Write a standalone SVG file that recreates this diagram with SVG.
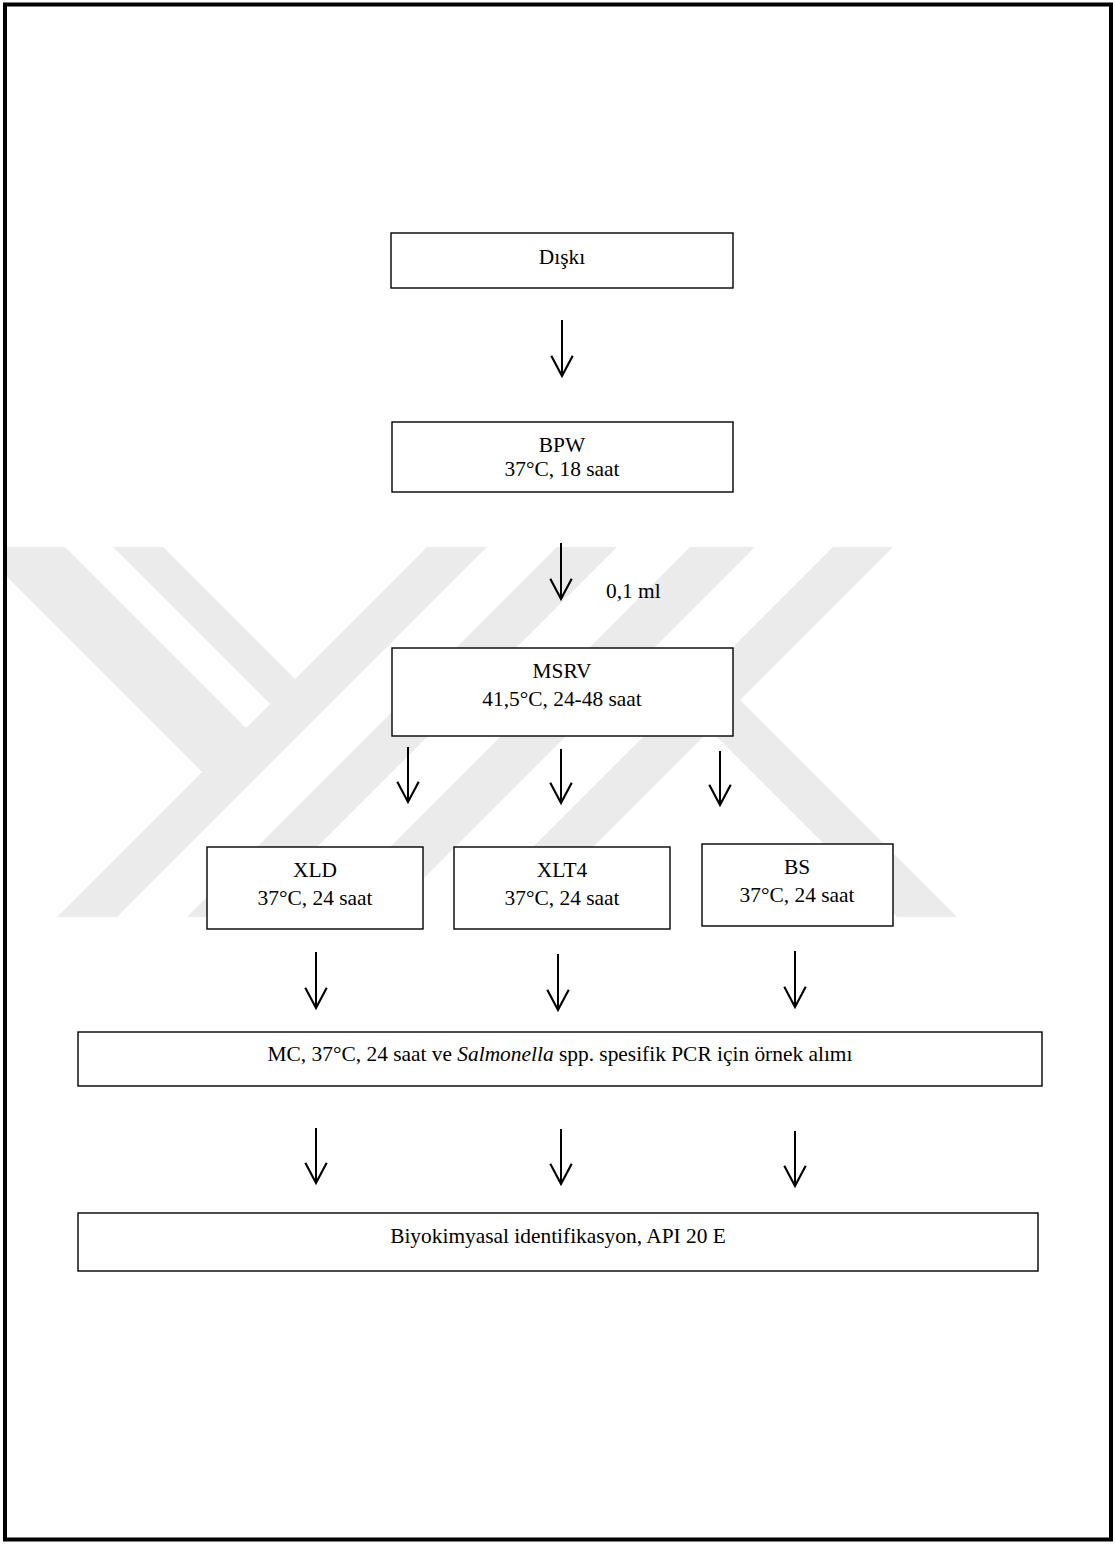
<svg xmlns="http://www.w3.org/2000/svg" width="1115" height="1544" viewBox="0 0 1115 1544">
<style>
.box{fill:#fff;stroke:#000;stroke-width:1.4}
.t{font-family:"Liberation Serif","Times New Roman",serif;font-size:21.4px;fill:#000;text-anchor:middle}
.conn line{stroke:#000;stroke-width:2}
.wm{fill:#ebebeb}
</style>
<defs>
<marker id="ah" markerUnits="userSpaceOnUse" markerWidth="30" markerHeight="30" viewBox="-24 -14 28 28" refX="0" refY="0" orient="auto">
<path d="M-19,-10 L0,0 L-19,10" fill="none" stroke="#000" stroke-width="2"/>
</marker>
<clipPath id="wmclip"><rect x="7" y="547" width="1102" height="370"/></clipPath>
</defs>
<rect x="0" y="0" width="1115" height="1544" fill="#fff"/>
<g id="watermark" clip-path="url(#wmclip)">
<polygon class="wm" points="-70,500 18,500 246,728 202,772"/>
<polygon class="wm" points="66,500 116,500 295,679 270,704"/>
<polygon class="wm" points="474,500 534,500 74,960 14,960"/>
<polygon class="wm" points="604,500 664,500 204,960 144,960"/>
<polygon class="wm" points="737,500 802,500 342,960 277,960"/>
<polygon class="wm" points="880,500 940,500 480,960 420,960"/>
<polygon class="wm" points="710,730 740,700 1000,960 940,960"/>
</g>
<rect x="5" y="4.5" width="1106" height="1535" fill="none" stroke="#000" stroke-width="4"/>
<g id="connectors" class="conn">
<line x1="562" y1="320" x2="562" y2="376" marker-end="url(#ah)"/>
<line x1="561" y1="543" x2="561" y2="599" marker-end="url(#ah)"/>
<line x1="408" y1="747" x2="408" y2="802" marker-end="url(#ah)"/>
<line x1="561" y1="749" x2="561" y2="803" marker-end="url(#ah)"/>
<line x1="720" y1="751" x2="720" y2="805" marker-end="url(#ah)"/>
<line x1="316" y1="952" x2="316" y2="1008" marker-end="url(#ah)"/>
<line x1="558" y1="954" x2="558" y2="1010" marker-end="url(#ah)"/>
<line x1="795" y1="951" x2="795" y2="1007" marker-end="url(#ah)"/>
<line x1="316" y1="1128" x2="316" y2="1183" marker-end="url(#ah)"/>
<line x1="561" y1="1129" x2="561" y2="1184" marker-end="url(#ah)"/>
<line x1="795" y1="1131" x2="795" y2="1186" marker-end="url(#ah)"/>
<text class="t" x="606" y="598" style="text-anchor:start">0,1 ml</text>
</g>
<g id="n-diski">
<rect class="box" x="391" y="233" width="342" height="55"/>
<text class="t" x="562" y="264">Dışkı</text>
</g>
<g id="n-bpw">
<rect class="box" x="392" y="422" width="341" height="70"/>
<text class="t" x="562" y="452">BPW</text>
<text class="t" x="562" y="476">37°C, 18 saat</text>
</g>
<g id="n-msrv">
<rect class="box" x="392" y="648" width="341" height="88"/>
<text class="t" x="562" y="678">MSRV</text>
<text class="t" x="562" y="706">41,5°C, 24-48 saat</text>
</g>
<g id="n-xld">
<rect class="box" x="207" y="847" width="216" height="82"/>
<text class="t" x="315" y="877">XLD</text>
<text class="t" x="315" y="905">37°C, 24 saat</text>
</g>
<g id="n-xlt4">
<rect class="box" x="454" y="847" width="216" height="82"/>
<text class="t" x="562" y="877">XLT4</text>
<text class="t" x="562" y="905">37°C, 24 saat</text>
</g>
<g id="n-bs">
<rect class="box" x="702" y="844" width="191" height="82"/>
<text class="t" x="797" y="874">BS</text>
<text class="t" x="797" y="902">37°C, 24 saat</text>
</g>
<g id="n-mc">
<rect class="box" x="78" y="1032" width="964" height="54"/>
<text class="t" x="560" y="1061">MC, 37°C, 24 saat ve <tspan font-style="italic">Salmonella</tspan> spp. spesifik PCR için örnek alımı</text>
</g>
<g id="n-api">
<rect class="box" x="78" y="1213" width="960" height="58"/>
<text class="t" x="558" y="1243">Biyokimyasal identifikasyon, API 20 E</text>
</g>
</svg>
